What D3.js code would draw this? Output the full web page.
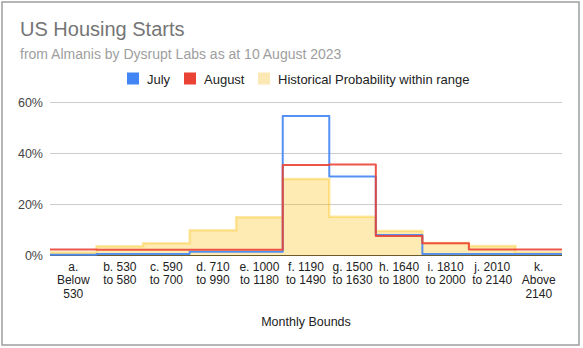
<!DOCTYPE html>
<html><head><meta charset="utf-8">
<script src="https://cdn.jsdelivr.net/npm/d3@7"></script>
<style>
body{margin:0;background:#fff;}
svg{display:block;font-family:Arial,"Liberation Sans",sans-serif;}
</style></head><body>
<svg id="c" width="583" height="348"></svg>
<script>
const categories = ["a. Below 530","b. 530 to 580","c. 590 to 700","d. 710 to 990","e. 1000 to 1180","f. 1190 to 1490","g. 1500 to 1630","h. 1640 to 1800","i. 1810 to 2000","j. 2010 to 2140","k. Above 2140"];
const categoryLines = [["a.","Below","530"],["b. 530","to 580"],["c. 590","to 700"],["d. 710","to 990"],["e. 1000","to 1180"],["f. 1190","to 1490"],["g. 1500","to 1630"],["h. 1640","to 1800"],["i. 1810","to 2000"],["j. 2010","to 2140"],["k.","Above","2140"]];
const july = [0.1, 0.4, 0.4, 1.3, 1.3, 54.5, 30.8, 7.8, 0.4, 0.4, 0.4];
const august = [2.2, 2.1, 2.1, 2.1, 2.1, 35.3, 35.5, 7.5, 4.6, 2.2, 2.2];
const historical = [1.0, 3.4, 4.6, 9.7, 14.8, 29.8, 15.0, 9.4, 4.7, 3.5, 1.0];
const yTicks = [0, 20, 40, 60];
const seriesNames = ["July","August","Historical Probability within range"];

const svg = d3.select("#c");
const L = 50, R = 562, T = 102, B = 255;
const x = d3.scaleBand().domain(categories).range([L, R]).padding(0);
const y = d3.scaleLinear().domain([0, 60]).range([B, T]);

// frame
svg.append("rect").attr("x",2).attr("y",2).attr("width",577).attr("height",343)
  .attr("fill","#fff").attr("stroke","#9e9e9e").attr("stroke-width",1.5);

// titles
svg.append("text").attr("x",20).attr("y",36).attr("font-size",20).attr("fill","#757575").text("US Housing Starts");
svg.append("text").attr("x",20).attr("y",59).attr("font-size",14).attr("fill","#9e9e9e").text("from Almanis by Dysrupt Labs as at 10 August 2023");

// legend
const legendColors = ["#4285f4","#ea4335","#fce8b2"];
const legendX = [127, 184, 258];
seriesNames.forEach((n,i)=>{
  svg.append("rect").attr("x",legendX[i]).attr("y",72.5).attr("width",12).attr("height",12).attr("fill",legendColors[i]);
  svg.append("text").attr("x",legendX[i]+20).attr("y",83.5).attr("font-size",13).attr("fill","#222").text(n);
});

// grid
const yAxis = d3.axisLeft(y).tickValues(yTicks).tickFormat(d=>d+"%").tickSize(-(R-L)).tickPadding(7);
const gy = svg.append("g").attr("transform",`translate(${L},0)`).call(yAxis);
gy.select(".domain").remove();
gy.selectAll(".tick line").attr("stroke","#cccccc").attr("stroke-width",1);
gy.selectAll(".tick text").attr("font-size",12.5).attr("fill","#444").attr("font-family","Arial, 'Liberation Sans', sans-serif");

function stepPoints(vals){
  const pts = [];
  categories.forEach((c,i)=>{
    pts.push([x(c), y(vals[i])]);
    pts.push([x(c)+x.bandwidth(), y(vals[i])]);
  });
  return pts;
}
const line = d3.line().x(d=>d[0]).y(d=>d[1]);
const area = d3.area().x(d=>d[0]).y0(y(0)).y1(d=>d[1]);

// historical area
const hp = stepPoints(historical);
svg.append("path").attr("d",area(hp)).attr("fill","#fbbc04").attr("fill-opacity",0.3);
svg.append("path").attr("d",line(hp)).attr("fill","none").attr("stroke","#fbbc04").attr("stroke-opacity",0.35).attr("stroke-width",2.5);

// baseline
svg.append("line").attr("x1",L).attr("x2",R).attr("y1",y(0)+0.5).attr("y2",y(0)+0.5).attr("stroke","#6b5a2a").attr("stroke-width",1);

// lines
svg.append("path").attr("d",line(stepPoints(july))).attr("fill","none").attr("stroke","#4285f4").attr("stroke-width",2).attr("stroke-linejoin","round").attr("stroke-opacity",0.9);
svg.append("path").attr("d",line(stepPoints(august))).attr("fill","none").attr("stroke","#ea4335").attr("stroke-width",2).attr("stroke-linejoin","round").attr("stroke-opacity",0.9);

// x labels
const gx = svg.append("g");
categories.forEach((c,i)=>{
  const t = gx.append("text").attr("x",x(c)+x.bandwidth()/2).attr("y",270.5).attr("text-anchor","middle").attr("font-size",12).attr("fill","#222");
  categoryLines[i].forEach((s,j)=>{
    t.append("tspan").attr("x",x(c)+x.bandwidth()/2).attr("dy", j===0?0:13.5).text(s);
  });
});
svg.append("text").attr("x",(L+R)/2).attr("y",326).attr("text-anchor","middle").attr("font-size",12.5).attr("fill","#222").text("Monthly Bounds");
</script>
</body></html>
